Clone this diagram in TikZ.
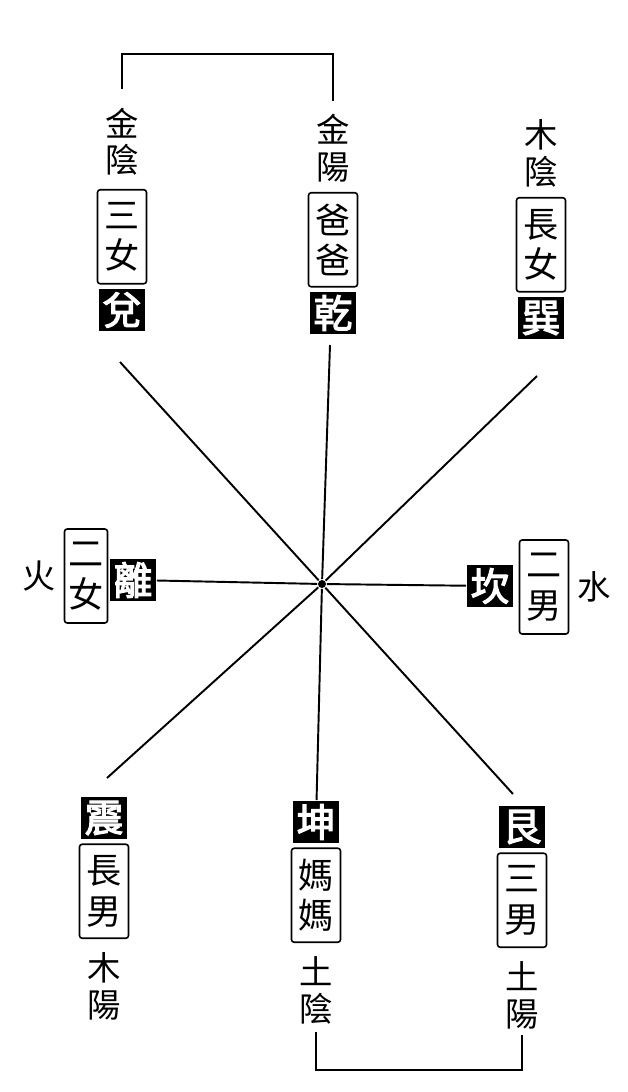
\documentclass[tikz,border=0pt]{standalone}
\usepackage{fontspec}
\newfontfamily\cjk[AutoFakeBold=3]{Noto Sans CJK TC}
\usepackage{tikz}
\usetikzlibrary{positioning}

\begin{document}
\begin{tikzpicture}[x=0.02cm, y=-0.02cm, line width=1.1pt,
    zi/.style={inner sep=0pt, align=center, font=\cjk\fontsize{19}{21}\selectfont},
    ren/.style={draw, line width=0.9pt, rounded corners=1.5pt, align=center,
        minimum width=0.98cm, minimum height=1.88cm, inner sep=1pt,
        font=\cjk\fontsize{20}{23}\selectfont},
    gua/.style={fill=black, text=white, inner sep=0pt, minimum width=0.92cm,
        minimum height=0.84cm, font=\cjk\bfseries\fontsize{22}{22}\selectfont}]
    \useasboundingbox (0,0) rectangle (627,1092);
    % centre
    \node[circle, fill, inner sep=1.6pt] (O) at (322,584) {};
    % top row
    \node[gua] (dui) at (122,310) {兌};
    \node[ren] (sannv) [above=2pt of dui] {三\\女};
    \node[zi] (jinyin) [above=7pt of sannv] {金\\陰};
    \node[gua] (qian) at (333,313) {乾};
    \node[ren] (baba) [above=2pt of qian] {爸\\爸};
    \node[zi] (jinyang) [above=5pt of baba] {金\\陽};
    \node[gua] (xun) at (541,318) {巽};
    \node[ren] (zhangnv) [above=2pt of xun] {長\\女};
    \node[zi] (muyin) [above=5pt of zhangnv] {木\\陰};
    % middle row
    \node[gua] (li) at (133,580) {離};
    \node[ren, minimum width=0.86cm] (ernv) at (86,576) {二\\女};
    \node[zi] (huo) [left=4pt of ernv] {火};
    \node[gua] (kan) at (490,586) {坎};
    \node[ren] (ernan) at (544,587) {二\\男};
    \node[zi] (shui) [right=4pt of ernan] {水};
    % bottom row
    \node[gua] (zhen) at (104,818) {震};
    \node[ren] (zhangnan) [below=2pt of zhen] {長\\男};
    \node[zi] (muyang) [below=7pt of zhangnan] {木\\陽};
    \node[gua] (kun) at (316,822) {坤};
    \node[ren] (mama) [below=2pt of kun] {媽\\媽};
    \node[zi] (tuyin) [below=7pt of mama] {土\\陰};
    \node[gua] (gen) at (522,827) {艮};
    \node[ren] (sannan) [below=2pt of gen] {三\\男};
    \node[zi] (tuyang) [below=7pt of sannan] {土\\陽};
    % free ends of the spokes
    \coordinate (nw) at (120,362);
    \coordinate (n) at (330,345);
    \coordinate (ne) at (537,376);
    \coordinate (sw) at (107,778);
    \coordinate (se) at (513,794);
    \draw (li) -- (O) -- (kan);
    \draw (nw) -- (O) -- (se);
    \draw (ne) -- (O) -- (sw);
    \draw (n) -- (O) -- (kun);
    % brackets
    \draw ([yshift=10pt]jinyin.north) -- ++(0,-35) -| ([yshift=7pt]jinyang.north);
    \draw ([yshift=-4pt]tuyin.south) -- ++(0,38) -| ([yshift=-3pt]tuyang.south);
\end{tikzpicture}
\end{document}
